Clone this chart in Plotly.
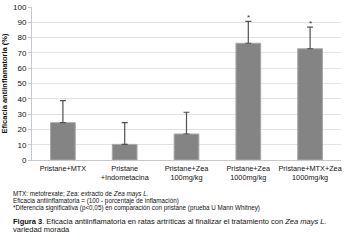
import plotly.graph_objects as go

categories = ["Pristane+MTX", "Pristane<br>+Indometacina", "Pristane+Zea<br>100mg/kg",
              "Pristane+Zea<br>1000mg/kg", "Pristane+MTX+Zea<br>1000mg/kg"]
values = [24.4, 10.2, 17.0, 76.3, 72.7]
errors = [14.4, 14.2, 14.2, 14.3, 14.2]
signif = ["", "", "", "*", "*"]
yticks = [0, 10, 20, 30, 40, 50, 60, 70, 80, 90, 100]

fig = go.Figure()
fig.add_trace(go.Bar(
    x=categories, y=values,
    marker=dict(color="#848484", line=dict(color="#a8a8a8", width=1)),
    error_y=dict(type="data", symmetric=False, array=errors, arrayminus=[0]*5,
                 color="#505050", thickness=1.2, width=3),
    width=0.4,
))
for c, v, e, s in zip(categories, values, errors, signif):
    if s:
        fig.add_annotation(x=c, y=v + e, text=s, showarrow=False, yshift=4,
                           font=dict(family="Liberation Sans", size=8, color="#333"))

fig.update_layout(
    width=355, height=246,
    margin=dict(l=32, r=14, t=7, b=86, autoexpand=False),
    paper_bgcolor="white", plot_bgcolor="white",
    showlegend=False,
    font=dict(family="Liberation Sans", color="#111"),
)
fig.update_yaxes(
    range=[0, 100], tickvals=yticks, showgrid=True, gridcolor="#e2e2e2", gridwidth=1,
    showline=True, linecolor="#c8c8c8", ticks="outside", tickcolor="#c8c8c8", ticklen=3,
    tickfont=dict(size=8, family="Liberation Sans", color="#111"),
    title=dict(text="<b>Eficacia antiinflamatoria (%)</b>", font=dict(size=7.5), standoff=4),
    zeroline=False,
)
fig.update_xaxes(
    showline=True, linecolor="#c8c8c8", ticks="",
    ticklabelstandoff=1,
    tickfont=dict(size=7.3, family="Liberation Sans", color="#111"),
    tickangle=0,
)

notes = [
    (194, "MTX: metotrexate; Zea: extracto de <i>Zea mays L.</i>", 6.3),
    (201, "Eficacia antiinflamatoria = (100 - porcentaje de inflamación)", 6.3),
    (208, "*Diferencia significativa (p<0,05) en comparación con pristane (prueba U Mann Whitney)", 6.3),
    (221, "<b>Figura 3</b>. Eficacia antiinflamatoria en ratas artríticas al finalizar el tratamiento con <i>Zea mays L.</i>", 7.5),
    (229, "variedad morada", 7.5),
]
for ypx, txt, sz in notes:
    fig.add_annotation(xref="paper", yref="paper", x=-32/309, xanchor="left",
                       y=(160 - ypx) / 153, yanchor="middle", text=txt, showarrow=False,
                       font=dict(size=sz, family="Liberation Sans", color="#111"), xshift=11)

fig.write_html("out.html", config={"displayModeBar": False},
               post_script="document.body.style.margin='0';document.body.style.overflow='hidden';")
